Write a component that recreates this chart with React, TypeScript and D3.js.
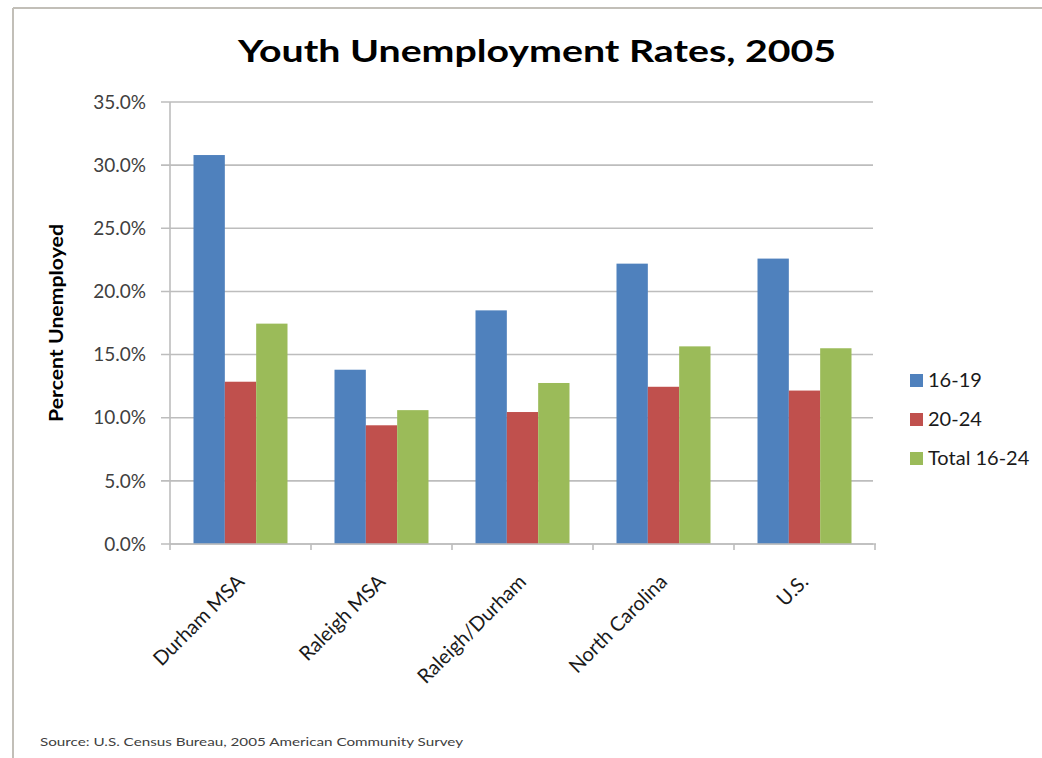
import React from "react";
import * as d3 from "d3";

const categories = ["Durham MSA", "Raleigh MSA", "Raleigh/Durham", "North Carolina", "U.S."];
const seriesNames = ["16-19", "20-24", "Total 16-24"];
const v1619 = [30.8, 13.8, 18.5, 22.2, 22.6];
const v2024 = [12.85, 9.4, 10.45, 12.45, 12.15];
const vTotal = [17.45, 10.6, 12.75, 15.65, 15.5];
const yTicks = [0, 5, 10, 15, 20, 25, 30, 35];
const colors = ["#4F81BD", "#C0504D", "#9BBB59"];

const W = 1042;
const H = 758;
const FONT = "Lato, 'Open Sans', sans-serif";

export default function App() {
  const series = [v1619, v2024, vTotal];
  const left = 170, right = 875, top = 102, bottom = 544;
  const x0 = d3.scaleBand<string>().domain(categories).range([left, right]).paddingInner(0).paddingOuter(0);
  const bw = x0.bandwidth();
  const gap = bw / 4.5 * 0.75;
  const x1 = d3.scaleBand<string>().domain(seriesNames).range([gap, bw - gap]).padding(0);
  const y = d3.scaleLinear().domain([0, 35]).range([bottom, top]);
  const boundaries = d3.range(categories.length + 1).map((i) => left + i * bw);

  return (
    <svg width={W} height={H} style={{ position: "absolute", left: 0, top: 0, background: "#fff" }}>
      <rect x={0} y={0} width={W} height={H} fill="#fff" />
      {/* frame */}
      <line x1={13} y1={8} x2={W} y2={8} stroke="#c2bfb8" strokeWidth={2} />
      <line x1={13} y1={8} x2={13} y2={H} stroke="#c2bfb8" strokeWidth={2} />

      <text x={537} y={62} textAnchor="middle" fontFamily={FONT} fontWeight="bold" fontSize={31} fill="#000" textLength={598} lengthAdjust="spacingAndGlyphs">
        Youth Unemployment Rates, 2005
      </text>

      {/* gridlines */}
      {yTicks.map((t) => (
        <line key={"g" + t} x1={161} x2={right - 2} y1={y(t)} y2={y(t)} stroke="#bdbdbd" strokeWidth={1.6} />
      ))}
      {/* y axis */}
      <line x1={left} x2={left} y1={top} y2={bottom} stroke="#bdbdbd" strokeWidth={1.6} />
      {yTicks.map((t) => (
        <text key={"yl" + t} x={146} y={y(t)} dy="0.35em" textAnchor="end" fontFamily={FONT} fontSize={19} fill="#404040">
          {t.toFixed(1) + "%"}
        </text>
      ))}
      <text transform={`translate(63,${323}) rotate(-90)`} textAnchor="middle" fontFamily={FONT} fontWeight="bold" fontSize={18} fill="#000" textLength={198} lengthAdjust="spacingAndGlyphs">
        Percent Unemployed
      </text>

      {/* bars */}
      {categories.map((c, i) => (
        <g key={c} transform={`translate(${x0(c)},0)`}>
          {series.map((s, j) => (
            <rect key={j} x={x1(seriesNames[j])} y={y(s[i])} width={x1.bandwidth()} height={bottom - y(s[i])} fill={colors[j]} />
          ))}
        </g>
      ))}

      {/* x axis */}
      <line x1={left} x2={right + 1} y1={bottom} y2={bottom} stroke="#bdbdbd" strokeWidth={1.6} />
      {boundaries.map((b, i) => (
        <line key={"xt" + i} x1={b} x2={b} y1={bottom} y2={bottom + 6} stroke="#bdbdbd" strokeWidth={1.6} />
      ))}
      {categories.map((c) => (
        <text key={"xl" + c} transform={`translate(${(x0(c) as number) + bw / 2 + 5},${583}) rotate(-45)`} textAnchor="end" fontFamily={FONT} fontSize={20} fill="#1a1a1a">
          {c}
        </text>
      ))}

      {/* legend */}
      {seriesNames.map((n, j) => (
        <g key={"lg" + n} transform={`translate(910,${380 + j * 39})`}>
          <rect x={0} y={-6} width={13} height={13} fill={colors[j]} />
          <text x={18} y={0} dy="0.36em" fontFamily={FONT} fontSize={20} fill="#1a1a1a">
            {n}
          </text>
        </g>
      ))}

      <text x={40} y={746} fontFamily={FONT} fontSize={11} fill="#404040" textLength={423} lengthAdjust="spacingAndGlyphs">
        Source: U.S. Census Bureau, 2005 American Community Survey
      </text>
    </svg>
  );
}
